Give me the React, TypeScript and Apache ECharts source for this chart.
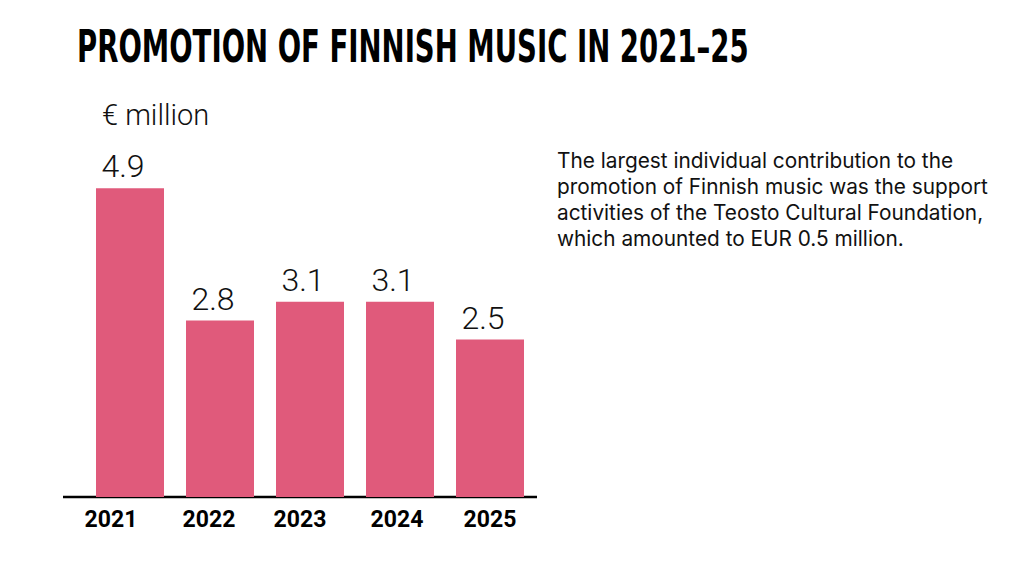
import React, { useEffect, useRef } from "react";
import * as echarts from "echarts";

const years = ["2021", "2022", "2023", "2024", "2025"];
const amounts = [4.9, 2.8, 3.1, 3.1, 2.5];
const titleText = "PROMOTION OF FINNISH MUSIC IN 2021–25";
const unitText = "€ million";
const noteLines = [
  "The largest individual contribution to the",
  "promotion of Finnish music was the support",
  "activities of the Teosto Cultural Foundation,",
  "which amounted to EUR 0.5 million.",
];

// horizontal nudge (px, negative = left) for each year label
const yearLabelNudge = [-19, -11, -10, -3, 0];

const BAR_COLOR = "#E05A7B";
const INK = "#111111";

export default function App() {
  const ref = useRef<HTMLDivElement>(null);

  useEffect(() => {
    if (!ref.current) return;
    const chart = echarts.init(ref.current, null, { renderer: "svg" });
    chart.setOption({
      animation: false,
      backgroundColor: "#ffffff",
      grid: { left: 85, right: 489, top: 182, bottom: 79 },
      xAxis: {
        type: "category",
        data: years.map((y, i) => ({
          value: y,
          textStyle: {
            padding: [0, Math.max(0, -2 * yearLabelNudge[i]), 0, Math.max(0, 2 * yearLabelNudge[i])],
          },
        })),
        axisLine: { show: false },
        axisTick: { show: false },
        axisLabel: {
          color: "#000",
          fontFamily: "Roboto",
          fontWeight: "bold",
          fontSize: 23,
          margin: 11,
        },
      },
      yAxis: {
        type: "value",
        min: 0,
        max: 5,
        show: false,
      },
      series: [
        {
          type: "bar",
          data: amounts,
          barWidth: 68,
          itemStyle: { color: BAR_COLOR },
          label: {
            show: true,
            position: "top",
            distance: 6,
            offset: [-7, 0],
            color: INK,
            fontFamily: "Roboto",
            fontWeight: 300,
            fontSize: 32,
            formatter: (p: any) => p.value.toFixed(1),
          },
        },
      ],
      graphic: [
        {
          type: "text",
          left: 77,
          top: 25,
          scaleX: 0.696,
          style: {
            text: titleText,
            fill: "#000",
            font: 'bold 44px "DejaVu Sans Condensed", "Liberation Sans Narrow", "DejaVu Sans", sans-serif',
          },
        },
        {
          type: "text",
          left: 102,
          top: 100,
          style: {
            text: unitText,
            fill: INK,
            font: '300 29px Roboto, sans-serif',
          },
        },
        {
          type: "text",
          left: 557,
          top: 147,
          style: {
            text: noteLines.join("\n"),
            fill: INK,
            font: '20.8px Inter, sans-serif',
            lineHeight: 26,
          },
        },
        {
          type: "line",
          shape: { x1: 63, y1: 497, x2: 537, y2: 497 },
          style: { stroke: "#000", lineWidth: 2.5 },
        },
      ],
    });
    return () => chart.dispose();
  }, []);

  return (
    <div
      ref={ref}
      style={{ position: "fixed", left: 0, top: 0, width: 1024, height: 576 }}
    />
  );
}
